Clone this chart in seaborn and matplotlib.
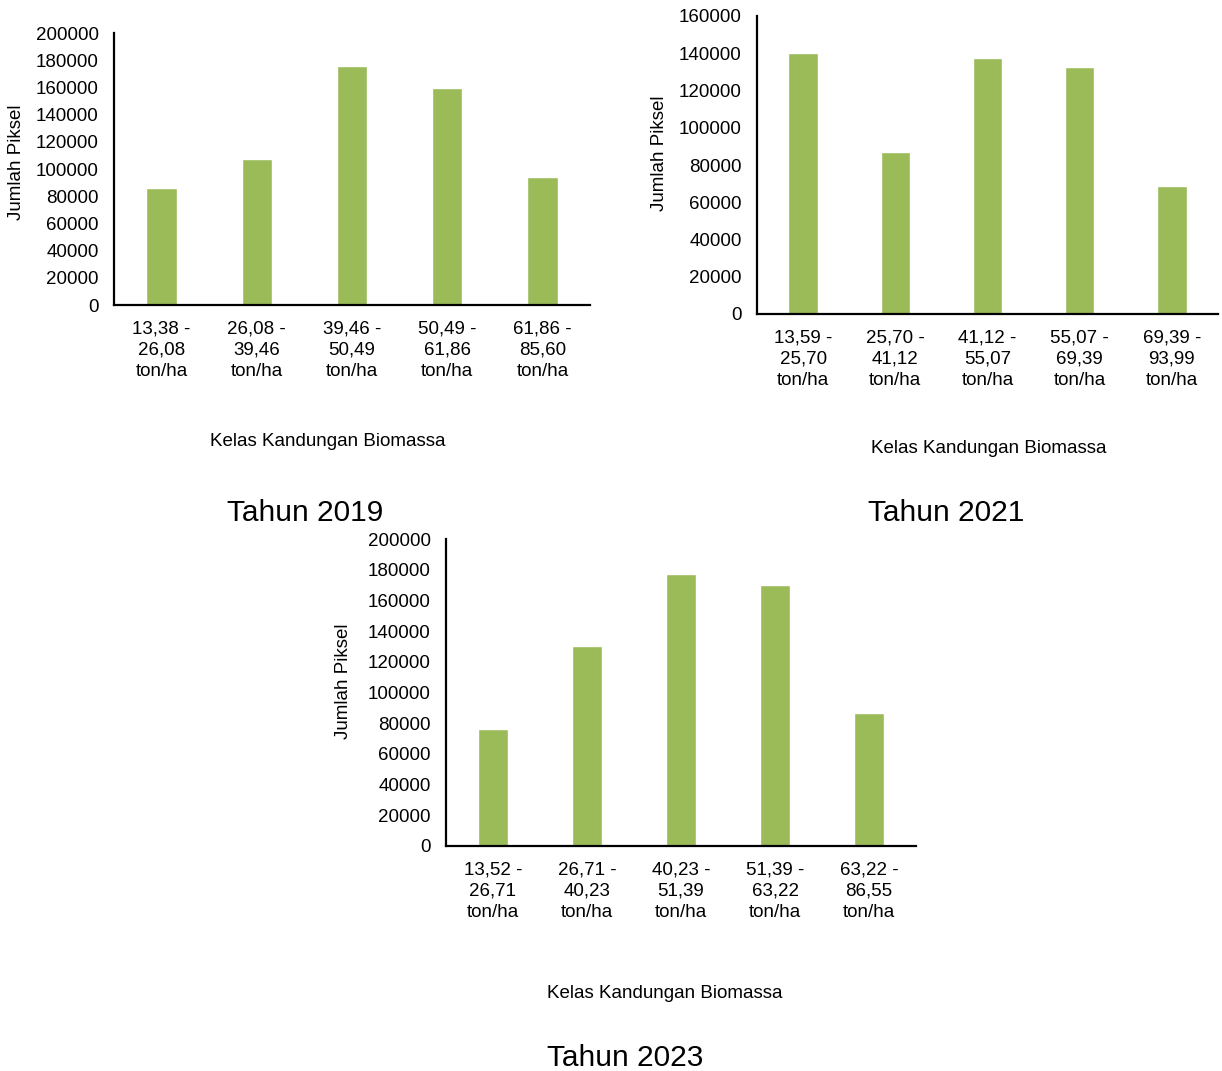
import matplotlib
matplotlib.use("Agg")
import matplotlib.pyplot as plt
import seaborn as sns
import pandas as pd

sns.set_theme(style="white")
plt.rcParams["font.family"] = ["Liberation Sans", "DejaVu Sans"]

# Biomass classes and pixel counts per year
classes_2019 = ["13,38 -\n26,08\nton/ha", "26,08 -\n39,46\nton/ha", "39,46 -\n50,49\nton/ha",
                "50,49 -\n61,86\nton/ha", "61,86 -\n85,60\nton/ha"]
pixels_2019 = [85700, 107600, 175800, 159300, 93800]

classes_2021 = ["13,59 -\n25,70\nton/ha", "25,70 -\n41,12\nton/ha", "41,12 -\n55,07\nton/ha",
                "55,07 -\n69,39\nton/ha", "69,39 -\n93,99\nton/ha"]
pixels_2021 = [140000, 86800, 137400, 132800, 68900]

classes_2023 = ["13,52 -\n26,71\nton/ha", "26,71 -\n40,23\nton/ha", "40,23 -\n51,39\nton/ha",
                "51,39 -\n63,22\nton/ha", "63,22 -\n86,55\nton/ha"]
pixels_2023 = [76100, 130500, 177300, 170300, 86500]

titles = ["Tahun 2019", "Tahun 2021", "Tahun 2023"]
y_max = [200000, 160000, 200000]

W, H = 1222, 1071
fig = plt.figure(figsize=(W / 100, H / 100), dpi=100)
fig.patch.set_facecolor("white")

BAR = "#9BBB59"
FS = 13.5


def px_axes(left, right, top, bottom):
    return fig.add_axes([left / W, (H - bottom) / H, (right - left) / W, (bottom - top) / H])


def draw(box, classes, values, ymax, title, ylab_xy, xlab_xy, title_xy):
    left, right, top, bottom = box
    ax = px_axes(left, right, top, bottom)
    df = pd.DataFrame({"kelas": classes, "piksel": values})
    sns.barplot(data=df, x="kelas", y="piksel", color=BAR, saturation=1,
                width=0.32, ax=ax)
    ax.set_xlim(-0.5, len(classes) - 0.5)
    ax.set_ylim(0, ymax)
    ax.set_yticks(range(0, ymax + 1, 20000))
    ax.set_yticklabels([str(v) for v in range(0, ymax + 1, 20000)], fontsize=FS)
    ax.set_xticks(range(len(classes)))
    ax.set_xticklabels(classes, fontsize=FS, linespacing=1.3)
    ax.tick_params(axis="both", length=0, colors="black")
    ax.tick_params(axis="x", pad=11.5)
    ax.tick_params(axis="y", pad=11)
    for s in ["top", "right"]:
        ax.spines[s].set_visible(False)
    for s in ["left", "bottom"]:
        ax.spines[s].set_color("black")
        ax.spines[s].set_linewidth(1.6)
    ax.set_xlabel("")
    ax.set_ylabel("Jumlah Piksel", fontsize=FS, color="black")
    ax.yaxis.set_label_coords((ylab_xy[0] - left) / (right - left),
                              (bottom - ylab_xy[1]) / (bottom - top))
    ax.yaxis.label.set_va("center")
    fig.text(xlab_xy[0] / W, 1 - xlab_xy[1] / H, "Kelas Kandungan Biomassa",
             fontsize=FS, ha="center", va="center", color="black")
    fig.text(title_xy[0] / W, 1 - title_xy[1] / H, title,
             fontsize=21.5, ha="center", va="center", color="black")


draw((114, 590, 33, 305), classes_2019, pixels_2019, y_max[0], titles[0],
     (17, 162), (328, 442), (305, 513))
draw((757, 1218, 16, 314), classes_2021, pixels_2021, y_max[1], titles[1],
     (660, 153), (989, 448), (946, 513))
draw((446, 916, 539, 846), classes_2023, pixels_2023, y_max[2], titles[2],
     (344, 681), (665, 994), (625, 1058))

fig.savefig("out.png", dpi=100, facecolor="white")
